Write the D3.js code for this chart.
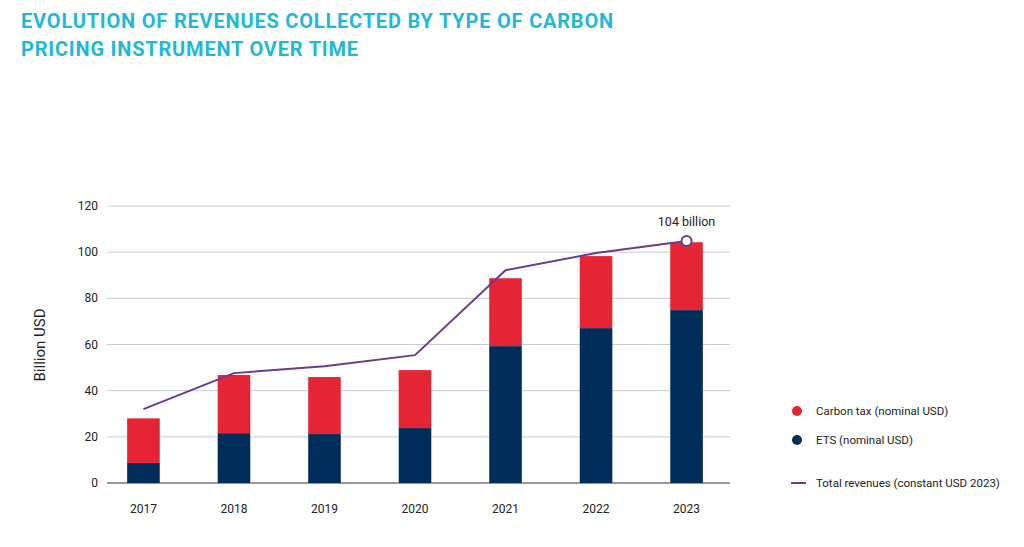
<!DOCTYPE html>
<html>
<head>
<meta charset="utf-8">
<script src="https://cdn.jsdelivr.net/npm/d3@7"></script>
<style>
  body { margin: 0; background: #fff; font-family: Roboto, "Open Sans", sans-serif; }
</style>
</head>
<body>
<svg id="chart" width="1024" height="547"></svg>
<script>
// chart data
const years = ["2017", "2018", "2019", "2020", "2021", "2022", "2023"];
const etsValues = [8.7, 21.6, 21.2, 23.8, 59.3, 67.1, 74.9];
const carbonTaxValues = [19.3, 25.2, 24.7, 25.1, 29.4, 31.2, 29.4];
const totalConstant = [32, 47.6, 50.6, 55.4, 92.2, 99.6, 104.8];
const yTicks = [0, 20, 40, 60, 80, 100, 120];

const svg = d3.select("#chart");

// title
svg.append("text").attr("x", 21).attr("y", 28)
  .attr("fill", "#1fb8d8").attr("font-size", 20).attr("font-weight", 700).attr("letter-spacing", 0.8)
  .text("EVOLUTION OF REVENUES COLLECTED BY TYPE OF CARBON");
svg.append("text").attr("x", 21).attr("y", 56)
  .attr("fill", "#1fb8d8").attr("font-size", 20).attr("font-weight", 700).attr("letter-spacing", 0.8)
  .text("PRICING INSTRUMENT OVER TIME");

const x = d3.scaleBand().domain(years).range([100, 730]).paddingInner(0.64).paddingOuter(0.3);
const y = d3.scaleLinear().domain([0, 120]).range([483, 206]);

// gridlines + y labels
svg.append("g").selectAll("line").data(yTicks).join("line")
  .attr("x1", 107).attr("x2", 730)
  .attr("y1", d => y(d)).attr("y2", d => y(d))
  .attr("stroke", d => d === 0 ? "#333" : "#c7cbd3").attr("stroke-width", 1);
svg.append("g").selectAll("text").data(yTicks).join("text")
  .attr("x", 98).attr("y", d => y(d) + 4).attr("text-anchor", "end")
  .attr("font-size", 12).attr("fill", "#222").text(d => d);

svg.append("text").attr("transform", "translate(45,345) rotate(-90)")
  .attr("text-anchor", "middle").attr("font-size", 15).attr("fill", "#222")
  .text("Billion USD");

// bars
const bars = svg.append("g");
years.forEach((yr, i) => {
  bars.append("rect").attr("x", x(yr)).attr("width", x.bandwidth())
    .attr("y", y(etsValues[i])).attr("height", y(0) - y(etsValues[i]))
    .attr("fill", "#002d5a");
  bars.append("rect").attr("x", x(yr)).attr("width", x.bandwidth())
    .attr("y", y(etsValues[i] + carbonTaxValues[i]))
    .attr("height", y(etsValues[i]) - y(etsValues[i] + carbonTaxValues[i]))
    .attr("fill", "#e52534");
});

// x labels
svg.append("g").selectAll("text").data(years).join("text")
  .attr("x", d => x(d) + x.bandwidth() / 2).attr("y", 513)
  .attr("text-anchor", "middle").attr("font-size", 12).attr("fill", "#222")
  .text(d => d);

// total line
const line = d3.line().x((d, i) => x(years[i]) + x.bandwidth() / 2).y(d => y(d));
svg.append("path").datum(totalConstant).attr("d", line)
  .attr("fill", "none").attr("stroke", "#6b3a91").attr("stroke-width", 2);

const last = totalConstant.length - 1;
svg.append("circle").attr("cx", x(years[last]) + x.bandwidth() / 2).attr("cy", y(totalConstant[last]))
  .attr("r", 5).attr("fill", "#fff").attr("stroke", "#6b3a91").attr("stroke-width", 2);
svg.append("text").attr("x", x(years[last]) + x.bandwidth() / 2).attr("y", y(totalConstant[last]) - 15)
  .attr("text-anchor", "middle").attr("font-size", 12.5).attr("fill", "#222").text("104 billion");

// legend
const lg = svg.append("g").attr("font-size", 11.5).attr("fill", "#222");
lg.append("circle").attr("cx", 797).attr("cy", 411).attr("r", 5).attr("fill", "#e52534");
lg.append("text").attr("x", 816).attr("y", 415).text("Carbon tax (nominal USD)");
lg.append("circle").attr("cx", 797).attr("cy", 440).attr("r", 5).attr("fill", "#002d5a");
lg.append("text").attr("x", 816).attr("y", 444).text("ETS  (nominal USD)");
lg.append("line").attr("x1", 791).attr("x2", 806).attr("y1", 483).attr("y2", 483)
  .attr("stroke", "#6b3a91").attr("stroke-width", 2);
lg.append("text").attr("x", 816).attr("y", 487).text("Total revenues (constant USD 2023)");
</script>
</body>
</html>
